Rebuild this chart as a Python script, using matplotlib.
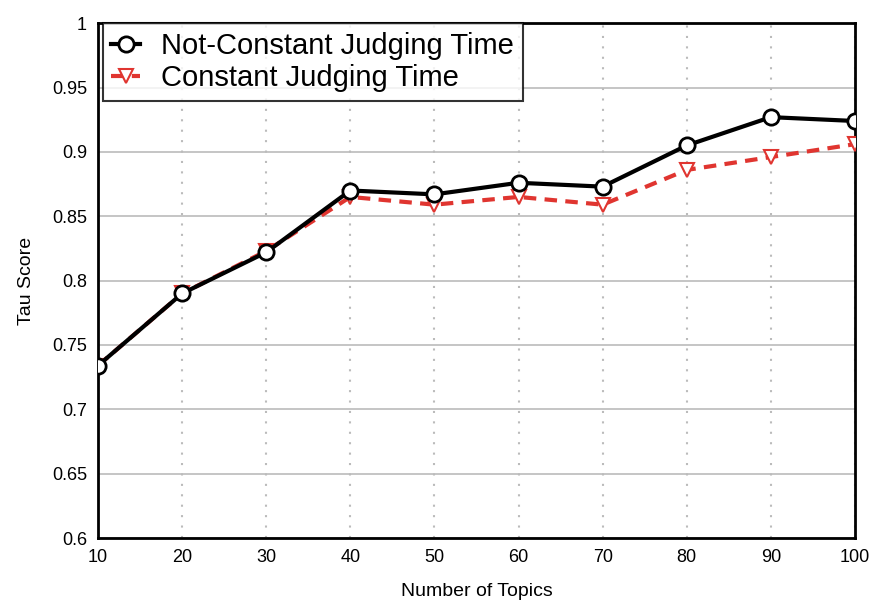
import matplotlib
matplotlib.use("Agg")
from matplotlib import pyplot as plt

plt.rcParams['font.family'] = ['Liberation Sans', 'DejaVu Sans']

topics = [10, 20, 30, 40, 50, 60, 70, 80, 90, 100]
not_constant = [0.734, 0.790, 0.822, 0.870, 0.867, 0.876, 0.873, 0.905, 0.927, 0.924]
constant = [0.734, 0.790, 0.823, 0.865, 0.859, 0.865, 0.859, 0.886, 0.896, 0.906]

fig = plt.figure(figsize=(8.73, 6.10), dpi=100)
ax = fig.add_axes([0.1123, 0.118, 0.867, 0.844])

ax.plot(topics, constant, color='#e03530', linestyle=(0, (3, 2)), linewidth=3,
        marker='v', markersize=10, markerfacecolor='white', markeredgecolor='#e03530',
        markeredgewidth=1.5, label='Constant Judging Time', zorder=3)
ax.plot(topics, not_constant, color='black', linewidth=3,
        marker='o', markersize=11, markerfacecolor='white', markeredgecolor='black',
        markeredgewidth=2, label='Not-Constant Judging Time', zorder=4)

ax.set_xlim(10, 100)
ax.set_ylim(0.6, 1.0)
ax.set_xticks(topics)
ax.set_yticks([0.6, 0.65, 0.7, 0.75, 0.8, 0.85, 0.9, 0.95, 1.0])
ax.set_yticklabels(['0.6', '0.65', '0.7', '0.75', '0.8', '0.85', '0.9', '0.95', '1'])
ax.tick_params(length=0, labelsize=13, pad=8)
ax.yaxis.grid(True, color='#bbbbbb', linewidth=1.2)
ax.xaxis.grid(True, color='#bbbbbb', linestyle=(0, (1, 4)), linewidth=1.5)
ax.set_axisbelow(True)
for s in ax.spines.values():
    s.set_linewidth(2)

ax.set_xlabel('Number of Topics', fontsize=14, labelpad=12)
ax.set_ylabel('Tau Score', fontsize=14, labelpad=12)

h, l = ax.get_legend_handles_labels()
leg = ax.legend(h[::-1], l[::-1], loc='upper left', bbox_to_anchor=(0.006, 1.0),
                borderaxespad=0, fontsize=21, frameon=True, fancybox=False,
                handlelength=1.0, handletextpad=0.7, labelspacing=0.15, borderpad=0.3)
leg.get_frame().set_edgecolor('black')
leg.get_frame().set_linewidth(1.5)
leg.set_zorder(10)

fig.savefig('out.png', dpi=100)
